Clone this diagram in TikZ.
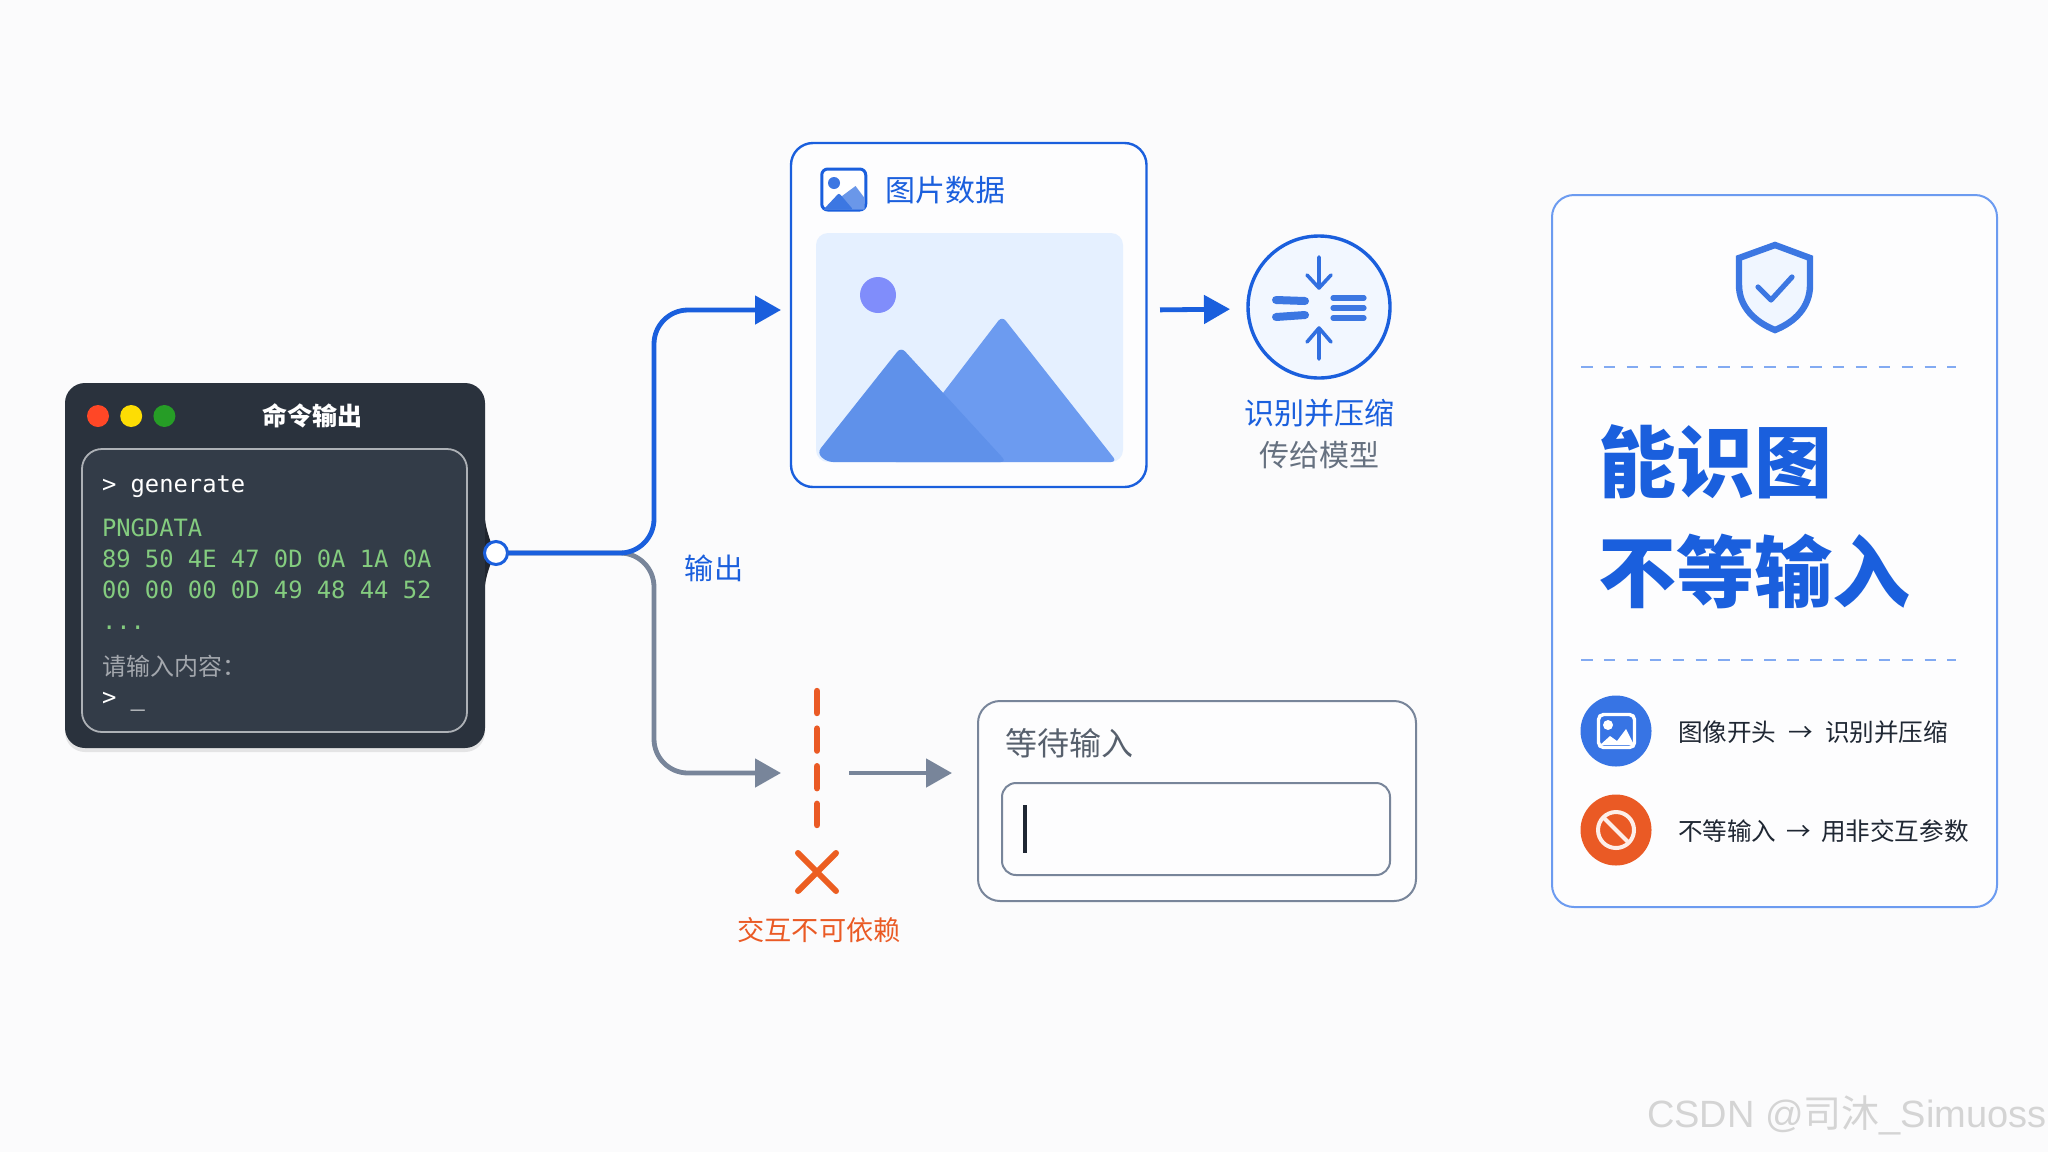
\documentclass[tikz,border=0pt]{standalone}
\usepackage{xcolor}
\usepackage{fontspec}
\setmainfont{Noto Sans CJK SC}
\setmonofont{DejaVu Sans Mono}
\newfontfamily\markfont{Liberation Sans}
\usetikzlibrary{arrows.meta}
\usetikzlibrary{positioning}
\usetikzlibrary{chains}
\usetikzlibrary{shadows}

\definecolor{pagebg}{HTML}{FBFBFC}
\definecolor{blueline}{HTML}{1A5FDD}
\definecolor{bluesoft}{HTML}{6C9BF0}
\definecolor{grayline}{HTML}{78859A}
\definecolor{graytext}{HTML}{667180}
\definecolor{redline}{HTML}{EA5A25}
\definecolor{termbg}{HTML}{2A323D}
\definecolor{termin}{HTML}{333C48}
\definecolor{termgreen}{HTML}{84CC7F}
\definecolor{inkdark}{HTML}{1F2733}

\begin{document}
\begin{tikzpicture}[x=0.5pt,y=-0.5pt]
      \tikzstyle{every node}=[inner sep=0pt,outer sep=0pt]
      \tikzstyle{card}=[draw,rounded corners=11pt,fill=white!60!pagebg]
      \tikzstyle{termline}=[anchor=base west,font=\ttfamily\fontsize{11.9}{14}\selectfont]
      \tikzstyle{tdot}=[circle,minimum size=11pt]
      \tikzstyle{flowblue}=[draw=blueline,line width=2.4pt,rounded corners=17pt,-{Triangle[length=13pt,width=14pt]}]
      \tikzstyle{flowgray}=[draw=grayline,line width=2.4pt,rounded corners=17pt,-{Triangle[length=13pt,width=14pt]}]
      \tikzstyle{label15}=[font=\fontsize{14.6}{18}\selectfont]
      \tikzstyle{rowtext}=[anchor=west,text=inkdark,font=\fontsize{12.3}{16}\selectfont]
      \tikzstyle{headline}=[anchor=west,text=blueline,font=\bfseries\fontsize{39}{44}\selectfont]
      \tikzstyle{rule}=[draw=bluesoft!85!white,line width=1.2pt,dash pattern=on 5.75pt off 5.7pt]

      \useasboundingbox (0,0) rectangle (2048,1152);
      \fill[pagebg] (0,0) rectangle (2048,1152);

      % terminal
      \node [fill=termbg,rounded corners=10pt,minimum width=210pt,minimum height=182.5pt,
        drop shadow={opacity=.18,shadow xshift=0pt,shadow yshift=-2pt}] (term) at (275,565.5) {};
      \node [draw=white!60!termin,fill=termin,line width=.9pt,rounded corners=10pt,minimum width=192.5pt,minimum height=141.5pt] (termbox) at (274.5,590.5) {};
      \begin{scope}[start chain=1 going right,node distance=5.6pt]
        \node [on chain=1,tdot,fill=red!70!orange!85!white] (dotred) at (98,416) {};
        \node [on chain=1,tdot,fill=yellow!80!orange] (dotyellow) {};
        \node [on chain=1,tdot,fill=green!55!black!85!white] (dotgreen) {};
      \end{scope}
      \node [text=white,font=\bfseries\fontsize{12.5}{15}\selectfont] (termtitle) at (312,416) {命令输出};
      \node [termline,text=white] (cmdline) at (102,492) {> generate};
      \node [termline,text=termgreen] (pngline) at (102,536) {PNGDATA};
      \node [termline,text=termgreen] (hexa) at (102,567) {89 50 4E 47 0D 0A 1A 0A};
      \node [termline,text=termgreen] (hexb) at (102,598) {00 00 00 0D 49 48 44 52};
      \node [termline,text=termgreen] (hexdots) at (102,629) {...};
      \node [anchor=west,text=white!55!termin,font=\fontsize{12}{15}\selectfont] (prompt) at (102,666) {请输入内容：};
      \node [termline,text=white] (promptline) at (102,705) {> \_};

      % connectors from the port
      \fill[termbg!75!black] (485,520) .. controls (487,535) and (493,545) .. (493,553) .. controls (493,561) and (487,570) .. (485,585) -- cycle;
      \coordinate (fork) at (654,553);
      \coordinate (blueend) at (781,310);
      \coordinate (grayend) at (781,773);
      \node [circle,draw=blueline,fill=white,line width=1.5pt,minimum size=11.5pt] (port) at (496,553) {};
      \draw[flowgray] (port.east) -- (fork) |- (grayend);
      \draw[flowblue] (port.east) -- (fork) |- (blueend);
      \node [label15,text=blueline] (outlabel) at (714,568) {输出};

      % image card
      \node [card,draw=blueline,line width=1.2pt,minimum width=177.75pt,minimum height=172pt] (imgcard) at (968.75,315) {};
      \node [draw=blueline,line width=1.5pt,fill=white,rounded corners=3pt,minimum width=22pt,minimum height=20.5pt] (imgicon) at (843.75,189.5) {};
      \fill[blueline!65!white] (824,209.5) -- (855.5,186) -- (864.5,198) -- (864.5,209.5) -- cycle;
      \fill[blueline!85!white,rounded corners=1pt] (823.5,209.5) -- (839,193) -- (853,209.5) -- cycle;
      \fill[blueline!85!white] (834,183) circle (3pt);
      \node [anchor=west,label15,text=blueline,font=\fontsize{15}{18}\selectfont] (imgtitle) at (885,190) {图片数据};
      \node [fill=blue!60!cyan!10!white,rounded corners=6pt,minimum width=153.5pt,minimum height=114.5pt] (panel) at (969.5,347.5) {};
      \fill[bluesoft!50!blue!60!white!95!blue] (878,295) circle (9pt);
      \fill[bluesoft,rounded corners=3pt] (890,462) -- (1002,316) -- (1117,462) -- cycle;
      \fill[blueline!50!bluesoft!85!white,rounded corners=3pt] (817,453) -- (901,347) -- (1006.5,462) -- (827,462) -- cycle;

      % compress step
      \draw[draw=blueline,line width=2.4pt,shorten <=6.75pt,shorten >=8pt,-{Triangle[length=13pt,width=14pt]}] (imgcard.east |- blueend) ++(0,0) -- (1246,309);
      \node [circle,draw=blueline,fill=blue!60!cyan!5!white,line width=1.7pt,minimum size=71pt] (compress) at (1319,307) {};
      \draw[blueline!90!white,line width=1.8pt,line cap=round,line join=round]
        (1319,257) -- (1319,288) (1307,275) -- (1319,288) -- (1331,275)
        (1319,359) -- (1319,328) (1307,342) -- (1319,328) -- (1331,342);
      \draw[blueline!85!white,line width=4pt,line cap=round] (1276,300) -- (1305,301) (1276,317) -- (1305,315);
      \draw[blueline!85!white,line width=2.6pt,line cap=round] (1333,298) -- (1364,298) (1333,308) -- (1364,308) (1333,318) -- (1364,318);
      \node [label15,text=blueline,font=\fontsize{15}{18}\selectfont] (compresstext) at (1319,413) {识别并压缩};
      \node [label15,text=graytext,font=\fontsize{15}{18}\selectfont] (sendtext) at (1319,455) {传给模型};

      % blocked branch
      \coordinate (stoptop) at (817,691);
      \coordinate (stopbot) at (817,825);
      \coordinate (stopmid) at (817,773);
      \draw[redline,line width=3.2pt,line cap=round,dash pattern=on 11pt off 7.8pt] (stoptop) -- (stopbot);
      \draw[redline!90!orange,line width=3pt,line cap=round] (798,853) -- (836,891) (836,853) -- (798,891);
      \node [text=redline,font=\fontsize{13.6}{17}\selectfont] (stoptext) at (819,930) {交互不可依赖};
      \node [card,draw=grayline,line width=1pt,minimum width=219pt,minimum height=100pt] (waitcard) at (1197,801) {};
      \draw[draw=grayline,line width=2.4pt,shorten <=16pt,shorten >=13pt,-{Triangle[length=13pt,width=14pt]}] (stopmid) -- (waitcard.west |- stopmid);
      \node [anchor=west,text=graytext!85!black,font=\fontsize{16}{20}\selectfont] (waittitle) at (1005,743) {等待输入};
      \node [draw=grayline,line width=1pt,rounded corners=7pt,fill=white!60!pagebg,minimum width=194pt,minimum height=46pt] (waitfield) at (1196,829) {};
      \draw[inkdark,line width=1.8pt] (1025,805) -- (1025,853);

      % summary card
      \node [card,draw=bluesoft,line width=1pt,minimum width=222.5pt,minimum height=356pt] (sumcard) at (1774.5,551) {};
      \draw[draw=blueline!85!white,fill=blue!60!cyan!6!white,line width=3.2pt] (1775,245) -- (1810,258) -- (1810,285) .. controls (1810,307) and (1795,322) .. (1775,330) .. controls (1755,322) and (1739,307) .. (1739,285) -- (1739,258) -- cycle;
      \draw[blueline!85!white,line width=2.6pt,line cap=round,line join=round] (1758,287) -- (1771,300) -- (1792,277);
      \coordinate (ruleal) at (1581,367);
      \coordinate (rulear) at (1956,367);
      \coordinate (rulebl) at (1581,660);
      \coordinate (rulebr) at (1956,660);
      \draw[rule] (ruleal) -- (rulear);
      \node [headline] (headone) at (1598,462) {能识图};
      \node [headline] (headtwo) at (1598,571) {不等输入};
      \draw[rule] (rulebl) -- (rulebr);

      \node [circle,fill=blueline!65!bluesoft,minimum size=35.5pt] (rowimg) at (1616,731) {};
      \node [draw=white,line width=1.7pt,rounded corners=2.5pt,minimum width=18pt,minimum height=16.5pt] (rowimgbox) at (1616.5,731) {};
      \fill[white] (1608,725) circle (2.5pt);
      \fill[white] (1600,745) -- (1610,736) -- (1617,741) -- (1626,729) -- (1634,745) -- cycle;
      \node [rowtext] (rowonetext) at (1678,732) {图像开头\hspace{6pt}→\hspace{6pt}识别并压缩};

      \node [circle,fill=redline,minimum size=35.5pt] (rowstop) at (1616,830) {};
      \node [circle,draw=white!90!redline,line width=2pt,minimum size=18pt] (rowring) at (1616,830) {};
      \draw[white!90!redline,line width=2pt] (rowring.north west) -- (rowring.south east);
      \node [rowtext] (rowtwotext) at (1678,831) {不等输入\hspace{5pt}→\hspace{5pt}用非交互参数};

      \node [anchor=base west,text=black!17,font=\fontsize{19}{22}\selectfont] (watermark) at (1647,1127) {\markfont CSDN @{\rmfamily 司沐}\_Simuoss};
    \end{tikzpicture}
\end{document}
